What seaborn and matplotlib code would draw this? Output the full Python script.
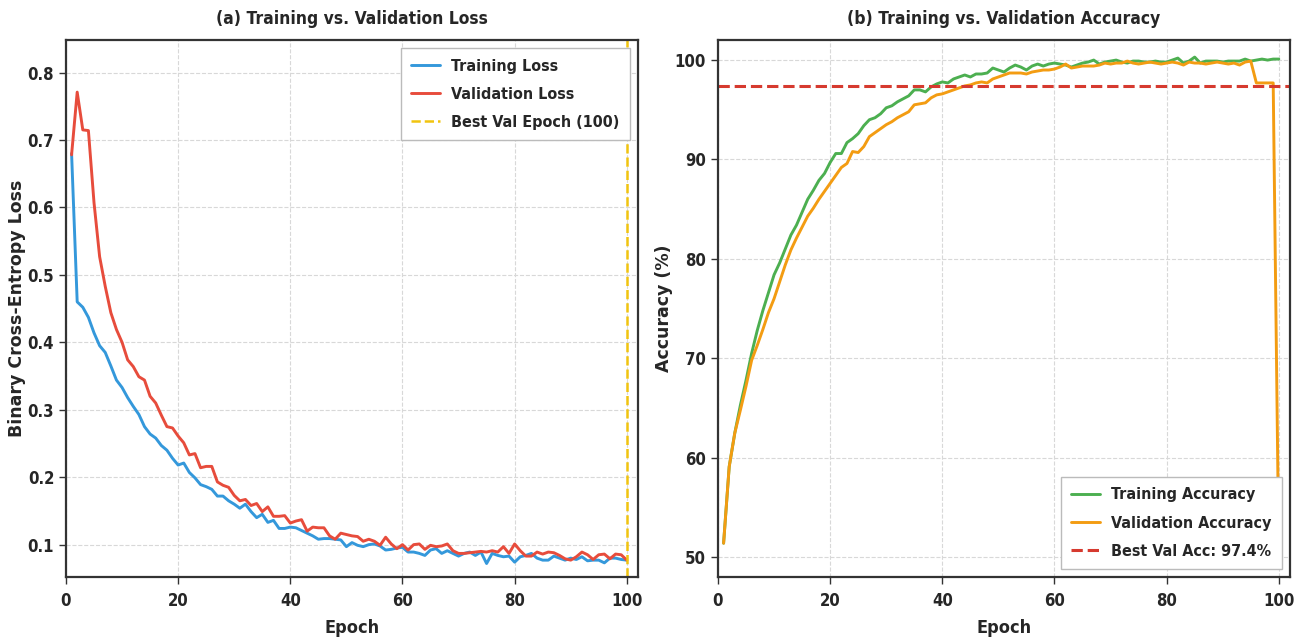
import numpy as np
import pandas as pd
import matplotlib
matplotlib.use('Agg')
import matplotlib.pyplot as plt
import seaborn as sns

# values, epochs 1..100
epochs = list(range(1, 101))

train_loss = [0.680, 0.460, 0.452, 0.437, 0.414, 0.395, 0.385, 0.365, 0.344, 0.333,
              0.318, 0.305, 0.293, 0.275, 0.264, 0.258, 0.247, 0.240, 0.228, 0.218,
              0.221, 0.207, 0.199, 0.189, 0.186, 0.182, 0.172, 0.172, 0.165, 0.160,
              0.154, 0.160, 0.149, 0.140, 0.145, 0.133, 0.136, 0.124, 0.124, 0.126,
              0.125, 0.121, 0.117, 0.113, 0.108, 0.109, 0.109, 0.108, 0.107, 0.097,
              0.103, 0.099, 0.097, 0.100, 0.101, 0.098, 0.092, 0.093, 0.095, 0.096,
              0.089, 0.089, 0.087, 0.084, 0.092, 0.094, 0.087, 0.091, 0.087, 0.083,
              0.087, 0.089, 0.084, 0.089, 0.072, 0.087, 0.084, 0.082, 0.083, 0.074,
              0.082, 0.084, 0.087, 0.080, 0.077, 0.077, 0.083, 0.080, 0.077, 0.080,
              0.078, 0.082, 0.076, 0.077, 0.077, 0.073, 0.080, 0.080, 0.078, 0.077]

val_loss = [0.678, 0.771, 0.715, 0.714, 0.607, 0.527, 0.483, 0.444, 0.419, 0.400,
            0.374, 0.364, 0.349, 0.344, 0.320, 0.310, 0.292, 0.275, 0.273, 0.261,
            0.251, 0.233, 0.235, 0.214, 0.216, 0.216, 0.193, 0.188, 0.185, 0.173,
            0.165, 0.167, 0.158, 0.161, 0.149, 0.156, 0.142, 0.142, 0.143, 0.132,
            0.135, 0.137, 0.120, 0.126, 0.125, 0.125, 0.113, 0.108, 0.117, 0.115,
            0.113, 0.112, 0.105, 0.108, 0.105, 0.099, 0.111, 0.101, 0.094, 0.100,
            0.092, 0.100, 0.101, 0.093, 0.099, 0.097, 0.098, 0.101, 0.091, 0.087,
            0.087, 0.088, 0.089, 0.090, 0.089, 0.091, 0.089, 0.097, 0.087, 0.101,
            0.091, 0.083, 0.083, 0.089, 0.086, 0.089, 0.088, 0.084, 0.079, 0.077,
            0.082, 0.089, 0.085, 0.078, 0.085, 0.086, 0.079, 0.086, 0.085, 0.077]

train_acc = [51.4, 59.1, 62.5, 65.3, 67.8, 70.5, 72.8, 74.8, 76.6, 78.4,
             79.6, 81.0, 82.4, 83.4, 84.7, 86.0, 86.9, 87.9, 88.6, 89.7,
             90.6, 90.6, 91.7, 92.1, 92.6, 93.4, 94.0, 94.2, 94.6, 95.2,
             95.4, 95.8, 96.1, 96.4, 97.0, 97.0, 96.8, 97.3, 97.6, 97.8,
             97.7, 98.1, 98.3, 98.5, 98.3, 98.6, 98.6, 98.7, 99.2, 99.0,
             98.8, 99.2, 99.5, 99.3, 99.0, 99.4, 99.6, 99.4, 99.6, 99.7,
             99.6, 99.5, 99.3, 99.5, 99.7, 99.8, 100.0, 99.6, 99.8, 99.9,
             100.0, 99.8, 99.7, 99.9, 99.9, 99.8, 99.8, 99.9, 99.8, 99.8,
             100.0, 100.2, 99.7, 99.9, 100.3, 99.7, 99.9, 99.9, 99.9, 99.8,
             99.9, 99.9, 99.9, 100.1, 99.9, 100.0, 100.1, 100.0, 100.1, 100.1]

val_acc = [51.4, 59.1, 62.5, 64.8, 67.2, 69.8, 71.3, 72.9, 74.6, 76.0,
           77.7, 79.4, 80.9, 82.1, 83.2, 84.3, 85.1, 86.0, 86.8, 87.6,
           88.4, 89.2, 89.6, 90.8, 90.7, 91.3, 92.3, 92.7, 93.1, 93.5,
           93.8, 94.2, 94.5, 94.8, 95.5, 95.6, 95.7, 96.2, 96.5, 96.6,
           96.8, 97.0, 97.2, 97.4, 97.5, 97.7, 97.8, 97.7, 98.1, 98.3,
           98.5, 98.7, 98.7, 98.7, 98.6, 98.8, 98.9, 99.0, 99.0, 99.1,
           99.3, 99.6, 99.2, 99.3, 99.4, 99.4, 99.4, 99.5, 99.7, 99.6,
           99.7, 99.7, 99.9, 99.7, 99.6, 99.7, 99.8, 99.7, 99.6, 99.7,
           99.8, 99.7, 99.5, 99.8, 99.7, 99.7, 99.6, 99.7, 99.8, 99.7,
           99.6, 99.7, 99.5, 99.8, 99.9, 97.7, 97.7, 97.7, 97.7, 50.5]

best_epoch = 100
best_val_acc = 97.4

sns.set_style('whitegrid')
plt.rcParams['font.family'] = ['DejaVu Sans']
plt.rcParams['font.weight'] = 'bold'
plt.rcParams['font.stretch'] = 'condensed'

df = pd.DataFrame({'epoch': epochs, 'train_loss': train_loss, 'val_loss': val_loss,
                   'train_acc': train_acc, 'val_acc': val_acc})

fig = plt.figure(figsize=(13.09, 6.38), dpi=100)
ax1 = fig.add_axes([0.0504, 0.0956, 0.4370, 0.8414])
ax2 = fig.add_axes([0.5485, 0.0956, 0.4370, 0.8414])

leg_kw = dict(fontsize=11.5, framealpha=1, fancybox=False, edgecolor='#bbbbbb',
              labelspacing=0.82, borderpad=0.65, handlelength=1.8, handletextpad=0.7)

# (a) loss
sns.lineplot(data=df, x='epoch', y='train_loss', ax=ax1, color='#3498db', lw=2.1, label='Training Loss')
sns.lineplot(data=df, x='epoch', y='val_loss', ax=ax1, color='#e74c3c', lw=2.1, label='Validation Loss')
ax1.axvline(best_epoch, color='#f1c40f', ls='--', lw=1.8, label=f'Best Val Epoch ({best_epoch})')
ax1.set_xlim(0, 102)
ax1.set_ylim(0.052, 0.848)
ax1.set_title('(a) Training vs. Validation Loss', fontsize=12.5, fontweight='bold', pad=12)
ax1.set_xlabel('Epoch', fontsize=13, fontweight='bold', labelpad=6)
ax1.set_ylabel('Binary Cross-Entropy Loss', fontsize=12.5, fontweight='bold', fontstretch='normal', labelpad=1)
ax1.legend(loc='upper right', **leg_kw)

# (b) accuracy
sns.lineplot(data=df, x='epoch', y='train_acc', ax=ax2, color='#4caf50', lw=2.1, label='Training Accuracy')
sns.lineplot(data=df, x='epoch', y='val_acc', ax=ax2, color='#f39c12', lw=2.1, label='Validation Accuracy')
ax2.axhline(best_val_acc, color='#d63a2f', ls='--', lw=2.2, label=f'Best Val Acc: {best_val_acc}%')
ax2.set_xlim(0, 102)
ax2.set_ylim(48, 102)
ax2.set_title('(b) Training vs. Validation Accuracy', fontsize=12.5, fontweight='bold', pad=12)
ax2.set_xlabel('Epoch', fontsize=13, fontweight='bold', labelpad=6)
ax2.set_ylabel('Accuracy (%)', fontsize=12.5, fontweight='bold', fontstretch='normal', labelpad=1)
ax2.legend(loc='lower right', **leg_kw)

for ax in (ax1, ax2):
    ax.grid(True, ls='--', color='#d8d8d8', lw=0.8)
    for s in ax.spines.values():
        s.set_color('#333333')
        s.set_linewidth(1.6)
    ax.tick_params(axis='both', labelsize=12, length=5, width=1, color='#333333', direction='out',
                   bottom=True, left=True)
    ax.tick_params(axis='x', pad=6)
    for lab in ax.get_xticklabels() + ax.get_yticklabels():
        lab.set_fontweight('bold')
ax1.set_xticks([0, 20, 40, 60, 80, 100])
ax2.set_xticks([0, 20, 40, 60, 80, 100])
ax2.set_yticks([50, 60, 70, 80, 90, 100])

fig.savefig('out.png', dpi=100)
